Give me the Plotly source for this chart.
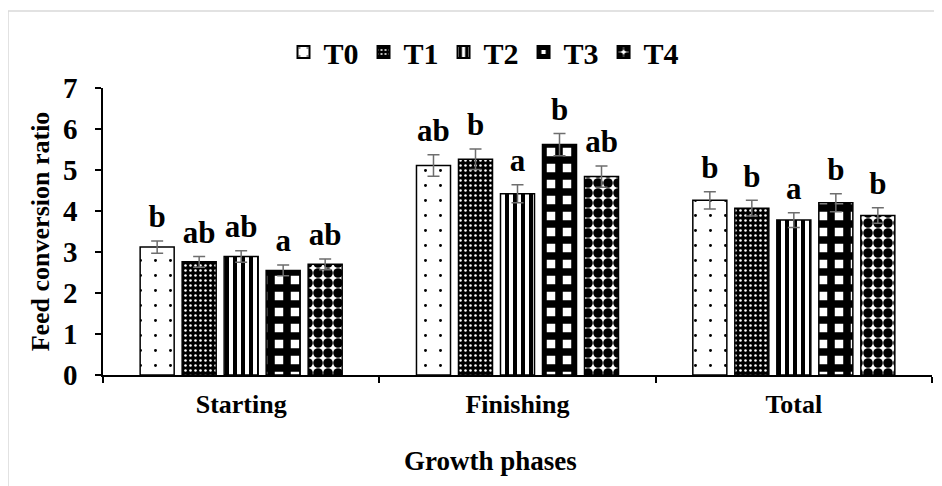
import plotly.graph_objects as go

phases = ["Starting", "Finishing", "Total"]
treatments = ["T0", "T1", "T2", "T3", "T4"]

t0_vals = [3.12, 5.11, 4.26]
t1_vals = [2.76, 5.26, 4.07]
t2_vals = [2.89, 4.42, 3.78]
t3_vals = [2.55, 5.62, 4.20]
t4_vals = [2.70, 4.84, 3.89]

t0_err = [0.15, 0.26, 0.21]
t1_err = [0.13, 0.25, 0.19]
t2_err = [0.14, 0.22, 0.18]
t3_err = [0.13, 0.27, 0.22]
t4_err = [0.13, 0.26, 0.19]

t0_letters = ["b", "ab", "b"]
t1_letters = ["ab", "b", "b"]
t2_letters = ["ab", "a", "a"]
t3_letters = ["a", "b", "b"]
t4_letters = ["ab", "ab", "b"]

y_ticks = [0, 1, 2, 3, 4, 5, 6, 7]

values = [t0_vals, t1_vals, t2_vals, t3_vals, t4_vals]
errors = [t0_err, t1_err, t2_err, t3_err, t4_err]
letters = [t0_letters, t1_letters, t2_letters, t3_letters, t4_letters]

FONT = "Liberation Serif"

patterns = [
    dict(shape=".", fgcolor="#000000", bgcolor="#ffffff", size=15, solidity=0.03, fillmode="replace"),
    dict(shape=".", fgcolor="#ffffff", bgcolor="#000000", size=5, solidity=0.2, fillmode="replace"),
    dict(shape="|", fgcolor="#000000", bgcolor="#ffffff", size=8, solidity=0.5, fillmode="replace"),
    dict(shape="+", fgcolor="#000000", bgcolor="#ffffff", size=16, solidity=0.72, fillmode="replace"),
    dict(shape=".", fgcolor="#000000", bgcolor="#ffffff", size=10, solidity=0.72, fillmode="replace"),
]

fig = go.Figure()
for name, vals, errs, pat in zip(treatments, values, errors, patterns):
    fig.add_trace(go.Bar(
        name=name, x=phases, y=vals,
        marker=dict(color="#ffffff", pattern=pat, line=dict(color="#000000", width=1.5)),
        error_y=dict(type="data", array=errs, visible=True, color="#6e6e6e", thickness=1.5, width=6),
        offsetgroup=name,
    ))

for name, vals, errs, labs in zip(treatments, values, errors, letters):
    fig.add_trace(go.Scatter(
        x=phases, y=[v + e for v, e in zip(vals, errs)],
        mode="markers+text", text=labs, textposition="top center",
        marker=dict(size=8, color="rgba(0,0,0,0)"),
        textfont=dict(family=FONT, size=31, color="#000000", weight="bold"),
        showlegend=False, hoverinfo="skip", offsetgroup=name,
    ))

OFF = 8  # page body margin
W, H = 942 - OFF, 486 - OFF
L, T = 103 - OFF, 88 - OFF
R = W - (932 - OFF)
B = H - (375 - OFF)
pw = W - L - R
ph = H - T - B


def px_x(x):
    return (x - OFF - L) / pw


def px_y(y):
    return (H - B - (y - OFF)) / ph


fig.update_layout(
    width=W, height=H,
    margin=dict(l=L, r=R, t=T, b=B, autoexpand=False),
    paper_bgcolor="#ffffff", plot_bgcolor="#ffffff",
    barmode="group", bargap=0.24, bargroupgap=0.19,
    scattermode="group", scattergap=0.24,
    font=dict(family=FONT, color="#000000"),
    showlegend=True,
    legend=dict(
        orientation="h", x=px_x(484), xanchor="center",
        y=px_y(52), yanchor="middle",
        font=dict(family=FONT, size=30, color="#000000", weight="bold"),
        bgcolor="rgba(0,0,0,0)", itemsizing="constant",
    ),
    xaxis=dict(
        showline=True, linecolor="#000000", linewidth=1.5,
        ticks="outside", ticklen=6, tickcolor="#000000", tickwidth=1.5,
        tickson="boundaries", ticklabelstandoff=5,
        tickfont=dict(family=FONT, size=26, color="#000000", weight="bold"),
        showgrid=False, zeroline=False, automargin=False,
    ),
    yaxis=dict(
        range=[0, 7], tickvals=y_ticks, ticktext=[str(t) for t in y_ticks],
        showline=True, linecolor="#000000", linewidth=1.5,
        ticks="outside", ticklen=6, tickcolor="#000000", tickwidth=1.5,
        ticklabelstandoff=12,
        tickfont=dict(family=FONT, size=29, color="#000000", weight="bold"),
        title=dict(text="Feed conversion ratio", standoff=6,
                   font=dict(family=FONT, size=26, color="#000000", weight="bold")),
        showgrid=False, zeroline=False, automargin=False,
    ),
    annotations=[dict(
        text="Growth phases", xref="paper", yref="paper",
        x=px_x(490), y=px_y(461), xanchor="center", yanchor="middle",
        showarrow=False,
        font=dict(family=FONT, size=27, color="#000000", weight="bold"),
    )],
    shapes=[dict(
        type="rect", xref="paper", yref="paper",
        x0=px_x(8), x1=px_x(980),
        y0=px_y(540), y1=px_y(11),
        line=dict(color="#d9d9d9", width=1.5), fillcolor="rgba(0,0,0,0)", layer="below",
    )],
)

fig.write_html("out.html")
